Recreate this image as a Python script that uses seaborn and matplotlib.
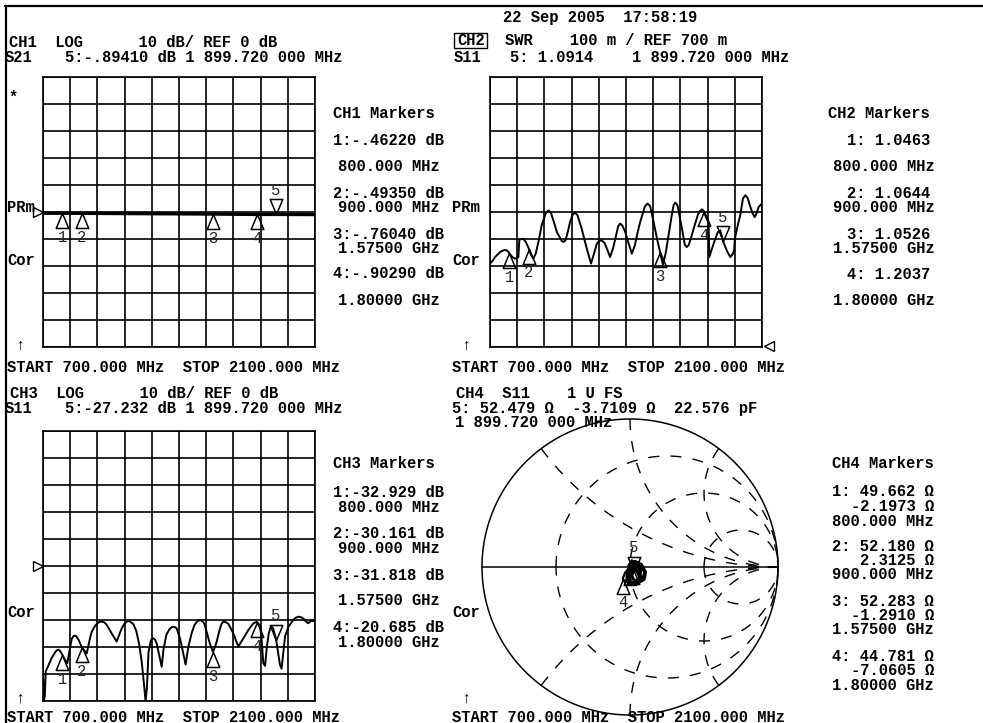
import numpy as np
import matplotlib
matplotlib.use("Agg")
import matplotlib.pyplot as plt
import seaborn as sns
from matplotlib.path import Path
from matplotlib.lines import Line2D
from matplotlib.patches import Rectangle

W, H = 983, 723
sns.set_style("white")
plt.rcParams["font.family"] = ["Liberation Mono", "DejaVu Sans Mono"]
plt.rcParams["font.size"] = 11.2
plt.rcParams["font.weight"] = "bold"

# ---------------- data ----------------
START_MHZ, STOP_MHZ = 700.0, 2100.0
marker_freq = [800.0, 900.0, 1575.0, 1800.0, 1899.72]

# CH1: S21 log magnitude (dB)
ch1_freq = [700, 800, 900, 1575, 1800, 1899.72, 2100]
ch1_db = [-0.45, -0.4622, -0.4935, -0.7604, -0.9029, -0.8941, -0.95]
ch1_marker_db = [-0.4622, -0.4935, -0.7604, -0.9029, -0.8941]

# CH2: S11 SWR
ch2_freq = [700, 712, 726, 752, 772, 786, 795, 800, 815, 829, 846, 851, 872,
            885, 900, 912, 923, 935, 950, 966, 988, 1001, 1014, 1030, 1044,
            1068, 1078, 1088, 1100, 1112, 1126, 1138, 1150, 1172, 1196, 1220,
            1235, 1250, 1263, 1275, 1290, 1303, 1318, 1335, 1353, 1360, 1370,
            1381, 1396, 1415, 1430, 1445, 1460, 1473, 1498, 1511, 1524, 1542,
            1560, 1575, 1590, 1605, 1619, 1636, 1645, 1653, 1665, 1688, 1703,
            1713, 1723, 1735, 1748, 1770, 1780, 1791, 1800, 1812, 1825, 1829,
            1845, 1860, 1872, 1885, 1899.72, 1920, 1937, 1950, 1957, 1960,
            1975, 1988, 2002, 2014, 2026, 2040, 2052, 2062, 2072, 2083, 2100]
ch2_swr = [1.009, 1.018, 1.033, 1.052, 1.059, 1.058, 1.052, 1.0463, 1.033,
           1.027, 1.033, 1.098, 1.101, 1.088, 1.0644, 1.040, 1.027, 1.045,
           1.092, 1.151, 1.197, 1.206, 1.196, 1.160, 1.126, 1.094, 1.089,
           1.094, 1.125, 1.163, 1.190, 1.198, 1.188, 1.138, 1.070, 1.009,
           1.045, 1.083, 1.093, 1.095, 1.085, 1.062, 1.033, 1.070, 1.126,
           1.148, 1.157, 1.150, 1.126, 1.080, 1.046, 1.075, 1.125, 1.163,
           1.222, 1.231, 1.222, 1.163, 1.100, 1.0526, 1.005, 1.050, 1.114,
           1.190, 1.225, 1.235, 1.225, 1.138, 1.078, 1.070, 1.078, 1.105,
           1.138, 1.190, 1.203, 1.210, 1.2037, 1.180, 1.160, 1.033, 1.070,
           1.101, 1.125, 1.132, 1.0914, 1.055, 1.033, 1.045, 1.060, 1.100,
           1.150, 1.188, 1.250, 1.262, 1.252, 1.219, 1.195, 1.181, 1.195,
           1.219, 1.231]
ch2_marker_swr = [1.0463, 1.0644, 1.0526, 1.2037, 1.0914]

# CH3: S11 log magnitude (dB)
ch3_freq = [700, 704, 709, 714, 727, 745, 765, 772, 779, 787, 800, 813, 825,
            835, 848, 858, 865, 872, 885, 900, 915, 925, 938, 950, 965, 976,
            988, 1002, 1016, 1028, 1053, 1079, 1105, 1120, 1131, 1140, 1148,
            1165, 1180, 1195, 1208, 1220, 1228, 1235, 1243, 1255, 1262, 1268,
            1277, 1285, 1298, 1311, 1320, 1335, 1350, 1362, 1371, 1380, 1388,
            1405, 1422, 1434, 1448, 1465, 1480, 1495, 1508, 1520, 1530, 1542,
            1560, 1575, 1585, 1594, 1611, 1620, 1628, 1640, 1654, 1680, 1705,
            1731, 1757, 1783, 1800, 1817, 1825, 1834, 1843, 1852, 1862, 1870,
            1877, 1885, 1899.72, 1910, 1920, 1928, 1937, 1946, 1963, 1988,
            2000, 2014, 2026, 2040, 2050, 2065, 2080, 2100]
ch3_db = [-39.8, -49.5, -48.5, -39.0, -37.0, -34.0, -31.7, -31.2, -31.0,
          -31.4, -32.929, -34.8, -36.0, -32.0, -27.0, -25.9, -25.8, -26.1,
          -27.6, -30.161, -31.5, -32.4, -28.0, -24.5, -22.5, -21.5, -20.8,
          -20.6, -20.9, -21.8, -24.9, -28.0, -23.1, -21.3, -20.6, -20.4, -20.6,
          -21.5, -24.0, -29.0, -35.4, -44.0, -50.2, -45.0, -32.0, -27.6,
          -26.9, -26.8, -27.3, -28.6, -33.0, -37.3, -31.0, -25.5, -23.5, -22.7,
          -22.5, -22.7, -23.1, -26.8, -32.4, -36.5, -30.0, -24.9, -21.8, -20.4,
          -20.0, -20.4, -21.3, -24.3, -29.0, -31.818, -30.0, -28.0, -23.1,
          -21.3, -20.6, -20.8, -21.4, -25.0, -29.9, -26.8, -23.7, -21.2,
          -20.685, -22.0, -27.0, -36.0, -37.0, -30.0, -25.0, -23.0, -22.5,
          -23.2, -27.232, -32.0, -36.7, -38.0, -32.0, -26.0, -22.5, -20.0,
          -19.2, -18.8, -18.9, -19.4, -20.3, -21.2, -20.3, -20.5]
ch3_marker_db = [-32.929, -30.161, -31.818, -20.685, -27.232]

# CH4: S11 Smith chart, reflection coefficient trace and marker impedances
Z0 = 50.0
ch4_gamma_re = [0.004, 0.018, 0.012, -0.003, -0.003, 0.014, 0.035, 0.022,
                0.004, -0.022, -0.014, 0.028, 0.068, 0.075, 0.048, 0.012,
                -0.012, 0.000, 0.036, 0.080, 0.098, 0.078, 0.036, 0.004,
                -0.020, 0.006, 0.058, 0.098, 0.108, 0.080, 0.044, 0.0225,
                0.010, -0.022, 0.000, 0.052, 0.092, 0.100, 0.064, 0.020,
                -0.034, -0.049, -0.034, 0.005, 0.0255, 0.050, 0.070, 0.054,
                0.012, -0.026, -0.018, 0.024, 0.060, 0.078, 0.040]
ch4_gamma_im = [-0.003, -0.012, -0.028, -0.022, -0.010, 0.018, 0.040, 0.022,
                -0.012, -0.058, -0.092, -0.104, -0.080, -0.030, 0.028, 0.045,
                0.008, -0.050, -0.100, -0.090, -0.035, 0.020, 0.040, 0.000,
                -0.065, -0.105, -0.108, -0.085, -0.035, 0.015, 0.022, -0.0123,
                -0.055, -0.100, -0.112, -0.105, -0.078, -0.040, 0.014, 0.028,
                -0.040, -0.078, -0.102, -0.070, -0.0353, -0.008, -0.060,
                -0.098, -0.112, -0.098, -0.040, -0.002, -0.040, -0.088, -0.108]
ch4_marker_r = [49.662, 52.180, 52.283, 44.781, 52.479]
ch4_marker_x = [-2.1973, 2.3125, -1.2910, -7.0605, -3.7109]

# Smith graticule: constant resistance circles and reactance arcs
smith_r = [1 / 3, 1.0, 3.0]
smith_x = [0.5, 1.0, 2.0, -0.5, -1.0, -2.0]

# ---------------- figure ----------------
fig = plt.figure(figsize=(W / 100, H / 100), dpi=100)
fig.patch.set_facecolor("white")


def axes_px(left, top, right, bottom):
    return fig.add_axes([left / W, 1 - bottom / H, (right - left) / W, (bottom - top) / H])


def txt(x, y, s, ha="left", **kw):
    fig.text(x / W, 1 - (y + 5) / H, s, ha=ha, va="baseline", color="black", **kw)


UP = Path([(0, 0), (-0.42, -1), (0.42, -1), (0, 0)],
          [Path.MOVETO, Path.LINETO, Path.LINETO, Path.CLOSEPOLY])
DOWN = Path([(0, 0), (-0.42, 1), (0.42, 1), (0, 0)],
            [Path.MOVETO, Path.LINETO, Path.LINETO, Path.CLOSEPOLY])


def draw_markers(ax, xs, ys, labelled=(1, 2, 3, 4, 5)):
    for i, (x, y) in enumerate(zip(xs, ys), start=1):
        active = i == 5
        ax.plot([x], [y], marker=DOWN if active else UP, ms=21.6, mfc="none",
                mec="black", mew=1.1, ls="none", clip_on=False, zorder=5)
        if i in labelled:
            ax.annotate(str(i), (x, y), xytext=(0, 17.5 if active else -17.5),
                        textcoords="offset points", ha="center", va="center",
                        fontsize=11.2, fontweight="normal", zorder=6)


def grid_axes(left, top, right, bottom, ylo, yhi):
    ax = axes_px(left, top, right, bottom)
    ax.set_xlim(START_MHZ, STOP_MHZ)
    ax.set_ylim(ylo, yhi)
    ax.set_xticks(np.linspace(START_MHZ, STOP_MHZ, 11))
    ax.set_yticks(np.linspace(ylo, yhi, 11))
    ax.grid(True, color="black", lw=1.2)
    ax.tick_params(length=0, labelbottom=False, labelleft=False)
    for s in ax.spines.values():
        s.set_visible(True)
        s.set_color("black")
        s.set_linewidth(1.2)
    ax.set_facecolor("white")
    return ax


# CH1
ax1 = grid_axes(43, 77, 315, 347, -50, 50)
sns.lineplot(x=ch1_freq, y=ch1_db, ax=ax1, color="black", lw=2.4, sort=False,
             estimator=None)
draw_markers(ax1, marker_freq, ch1_marker_db)
ax1.plot([-0.02], [0.5], marker=">", ms=6.5, mfc="white", mec="black", mew=1.0,
         transform=ax1.transAxes, clip_on=False)

# CH2
ax2 = grid_axes(490, 77, 762, 347, 0.7, 1.7)
sns.lineplot(x=ch2_freq, y=ch2_swr, ax=ax2, color="black", lw=1.4, sort=False,
             estimator=None)
draw_markers(ax2, marker_freq, ch2_marker_swr)
ax2.plot([1.024], [0.005], marker="<", ms=6.5, mfc="white", mec="black", mew=1.0,
         transform=ax2.transAxes, clip_on=False)

# CH3
ax3 = grid_axes(43, 431, 315, 701, -50, 50)
sns.lineplot(x=ch3_freq, y=ch3_db, ax=ax3, color="black", lw=1.4, sort=False,
             estimator=None)
draw_markers(ax3, marker_freq, ch3_marker_db)
ax3.plot([-0.02], [0.5], marker=">", ms=6.5, mfc="white", mec="black", mew=1.0,
         transform=ax3.transAxes, clip_on=False)

# CH4 Smith chart
lim = 150 / 148
ax4 = axes_px(480, 417, 780, 717)
ax4.set_xlim(-lim, lim)
ax4.set_ylim(-lim, lim)
ax4.set_aspect("equal")
ax4.axis("off")
t = np.linspace(0, 2 * np.pi, 721)
ax4.plot(np.cos(t), np.sin(t), color="black", lw=1.1)
ax4.plot([-1, 1], [0, 0], color="black", lw=1.1)
dash = (0, (8, 8))
for r in smith_r:
    c, rad = r / (1 + r), 1 / (1 + r)
    sgn = -1 if r < 1 else 1
    th = np.pi + sgn * np.linspace(0, 2 * np.pi, 500)
    ax4.plot(c + rad * np.cos(th), rad * np.sin(th), color="black", lw=1.0,
             ls=dash)
for xv in smith_x:
    xa = abs(xv)
    px, py = (xa ** 2 - 1) / (xa ** 2 + 1), 2 * xa / (xa ** 2 + 1)
    th0 = np.arctan2(py - 1 / xa, px - 1) % (2 * np.pi)
    th = np.linspace(th0, 1.5 * np.pi, 400)
    ys = 1 / xa + (1 / xa) * np.sin(th)
    ax4.plot(1 + (1 / xa) * np.cos(th), np.sign(xv) * ys, color="black",
             lw=1.0, ls=dash)
sns.lineplot(x=ch4_gamma_re, y=ch4_gamma_im, ax=ax4, color="black", lw=1.6,
             sort=False, estimator=None)
zm = np.array(ch4_marker_r) + 1j * np.array(ch4_marker_x)
gm = (zm - Z0) / (zm + Z0)
# markers 1-3 sit inside the dense trace, only 4 and 5 carry readable numbers
draw_markers(ax4, gm.real, gm.imag, labelled=(4, 5))
ax4.set_xlabel("")
ax4.set_ylabel("")

# frame lines of the printout
fig.add_artist(Line2D([5 / W, 1], [1 - 6 / H, 1 - 6 / H], color="black", lw=1.6,
                      transform=fig.transFigure))
fig.add_artist(Line2D([5.5 / W, 5.5 / W], [1 - 6 / H, 0], color="black", lw=1.6,
                      transform=fig.transFigure))

# ---------------- annotation text ----------------
sweep = "START 700.000 MHz  STOP 2100.000 MHz"
txt(503, 17, "22 Sep 2005  17:58:19")

txt(9, 42, "CH1  LOG      10 dB/ REF 0 dB")
txt(5, 57, "S21")
txt(65, 57, "5:-.89410 dB 1 899.720 000 MHz")
txt(8, 97, "*")
txt(7, 207, "PRm")
txt(7, 260, "Cor")
txt(15, 345, "↑")
txt(7, 367, sweep)
for x, y, s in [(333, 113, "CH1 Markers"), (333, 140, "1:-.46220 dB"),
                (338, 166, "800.000 MHz"), (333, 193, "2:-.49350 dB"),
                (338, 207, "900.000 MHz"), (333, 234, "3:-.76040 dB"),
                (338, 248, "1.57500 GHz"), (333, 273, "4:-.90290 dB"),
                (338, 300, "1.80000 GHz")]:
    txt(x, y, s)

txt(457, 40, "CH2")
fig.add_artist(Rectangle((454 / W, 1 - 48 / H), 33 / W, 15 / H, fill=False,
                         lw=1.0, ec="black", transform=fig.transFigure))
txt(505, 40, "SWR    100 m / REF 700 m")
txt(454, 57, "S11")
txt(510, 57, "5: 1.0914")
txt(632, 57, "1 899.720 000 MHz")
txt(452, 207, "PRm")
txt(452, 260, "Cor")
txt(461, 345, "↑")
txt(452, 367, sweep)
for x, y, s in [(828, 113, "CH2 Markers"), (847, 140, "1: 1.0463"),
                (833, 166, "800.000 MHz"), (847, 193, "2: 1.0644"),
                (833, 207, "900.000 MHz"), (847, 234, "3: 1.0526"),
                (833, 248, "1.57500 GHz"), (847, 274, "4: 1.2037"),
                (833, 300, "1.80000 GHz")]:
    txt(x, y, s)

txt(10, 393, "CH3  LOG      10 dB/ REF 0 dB")
txt(5, 408, "S11")
txt(65, 408, "5:-27.232 dB 1 899.720 000 MHz")
txt(7, 612, "Cor")
txt(15, 698, "↑")
txt(7, 717, sweep)
for x, y, s in [(333, 463, "CH3 Markers"), (333, 492, "1:-32.929 dB"),
                (338, 507, "800.000 MHz"), (333, 533, "2:-30.161 dB"),
                (338, 548, "900.000 MHz"), (333, 575, "3:-31.818 dB"),
                (338, 600, "1.57500 GHz"), (333, 627, "4:-20.685 dB"),
                (338, 642, "1.80000 GHz")]:
    txt(x, y, s)

txt(456, 393, "CH4  S11    1 U FS")
txt(452, 408, "5: 52.479 Ω  -3.7109 Ω  22.576 pF")
txt(455, 422, "1 899.720 000 MHz")
txt(452, 612, "Cor")
txt(461, 698, "↑")
txt(452, 717, sweep)
for y, s in [(463, "CH4 Markers"), (491, "1: 49.662 Ω"), (506, "-2.1973 Ω"),
             (521, "800.000 MHz"), (546, "2: 52.180 Ω"), (560, "2.3125 Ω"),
             (574, "900.000 MHz"), (601, "3: 52.283 Ω"), (615, "-1.2910 Ω"),
             (629, "1.57500 GHz"), (656, "4: 44.781 Ω"), (670, "-7.0605 Ω"),
             (685, "1.80000 GHz")]:
    txt(934, y, s, ha="right")

fig.savefig("out.png", dpi=100, facecolor="white")
